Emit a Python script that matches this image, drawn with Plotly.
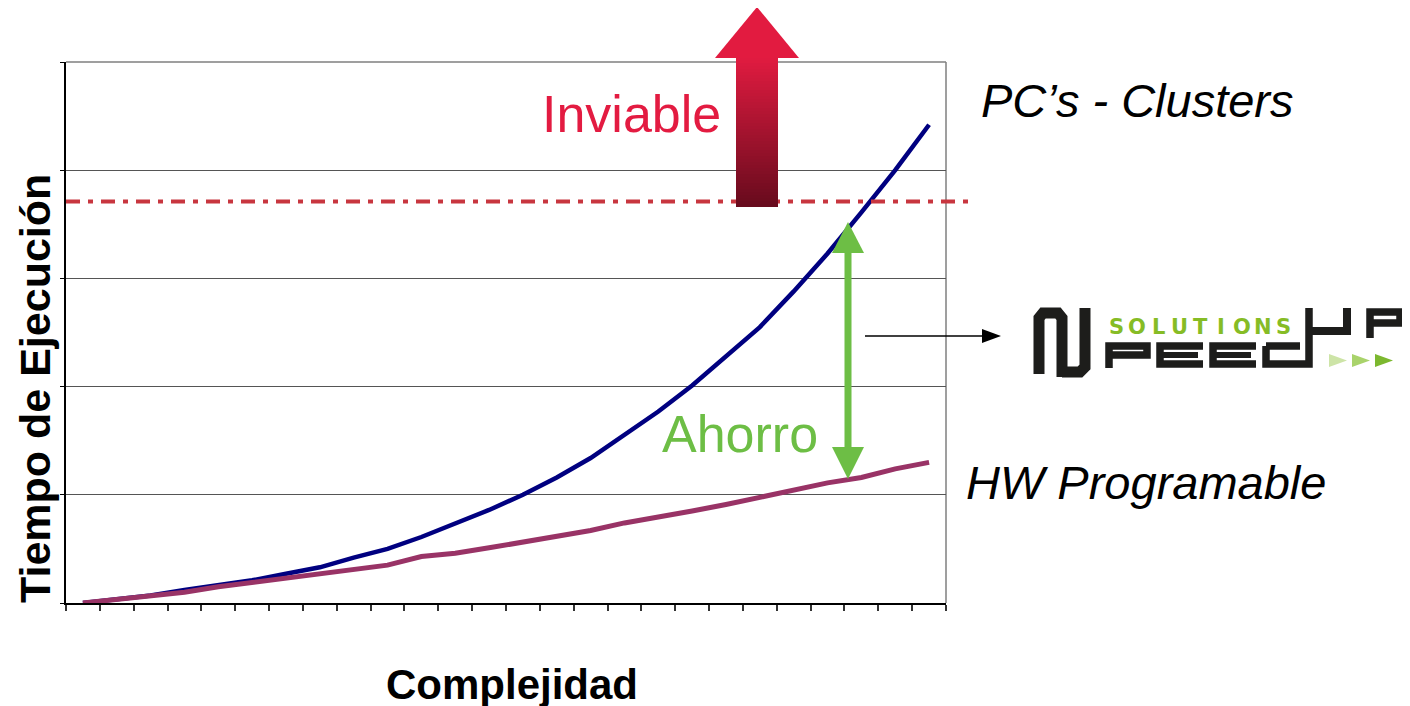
import plotly.graph_objects as go

# ---------------- data ----------------
complejidad = list(range(26))
pc_clusters = [0, 0.03, 0.07, 0.12, 0.16, 0.21, 0.27, 0.33, 0.42, 0.50, 0.61, 0.73, 0.86,
               1.00, 1.16, 1.34, 1.55, 1.77, 2.01, 2.28, 2.55, 2.88, 3.23, 3.61, 4.00, 4.42]
hw_programable = [0, 0.03, 0.07, 0.10, 0.15, 0.19, 0.23, 0.28, 0.31, 0.35, 0.43, 0.46, 0.51,
                  0.56, 0.61, 0.67, 0.74, 0.79, 0.85, 0.91, 0.98, 1.04, 1.11, 1.16, 1.24, 1.30]
limite_viable = 3.71
y_max = 5

# ---------------- layout helpers (page pixel -> paper) ----------------
W, H = 1410, 706
OFF = 8                       # default page (body) margin
PL, PT, PR, PB = 66, 62, 946, 603   # plot area in page pixels
L, T = PL - OFF, PT - OFF
R = W - L - (PR - PL)
B = H - T - (PB - PT)
PW, PH = PR - PL, PB - PT


def X(px):
    return (px - PL) / PW


def Y(py):
    return (PB - py) / PH


def path(points, close=True):
    s = "M " + " L ".join(f"{X(a):.5f},{Y(b):.5f}" for a, b in points)
    return s + (" Z" if close else "")


FONT = "Arial, Liberation Sans, sans-serif"

fig = go.Figure()
fig.add_trace(go.Scatter(x=complejidad, y=pc_clusters, mode="lines",
                         line=dict(color="#000080", width=4.5), name="PC's - Clusters",
                         hoverinfo="skip"))
fig.add_trace(go.Scatter(x=complejidad, y=hw_programable, mode="lines",
                         line=dict(color="#993366", width=5), name="HW Programable",
                         hoverinfo="skip"))

shapes = []
# plot frame (top and right in gray)
shapes.append(dict(type="line", xref="paper", yref="paper", x0=0, x1=1, y0=1, y1=1,
                   line=dict(color="#7f7f7f", width=1.5), layer="below"))
shapes.append(dict(type="line", xref="paper", yref="paper", x0=1, x1=1, y0=0, y1=1,
                   line=dict(color="#7f7f7f", width=1.5), layer="below"))

# dash-dot limit line
shapes.append(dict(type="line", xref="paper", yref="y", x0=0, x1=X(972),
                   y0=limite_viable, y1=limite_viable,
                   line=dict(color="#C8363F", width=4, dash="14px,8px,5px,8px"), layer="above"))

# red gradient arrow (Inviable)
c_top = (0xE0, 0x1B, 0x40)
c_bot = (0x68, 0x0B, 0x1D)
n = 50
y_top, y_bot = 57, 207
for k in range(n):
    t = k / (n - 1)
    col = tuple(round(c_top[i] + (c_bot[i] - c_top[i]) * t) for i in range(3))
    ya = y_top + (y_bot - y_top) * k / n
    yb = min(y_bot, y_top + (y_bot - y_top) * (k + 1) / n + 1.5)
    shapes.append(dict(type="rect", xref="paper", yref="paper", x0=X(736), x1=X(778),
                       y0=Y(yb), y1=Y(ya), fillcolor="rgb(%d,%d,%d)" % col,
                       line=dict(width=0), layer="above"))
shapes.append(dict(type="path", xref="paper", yref="paper",
                   path=path([(715, 58), (799, 58), (757, 7)]),
                   fillcolor="#E21B40", line=dict(width=0), layer="above"))

# green double arrow (Ahorro)
GREEN = "#6DBE45"
shapes.append(dict(type="rect", xref="paper", yref="paper", x0=X(844.5), x1=X(851.5),
                   y0=Y(449), y1=Y(251), fillcolor=GREEN, line=dict(width=0), layer="above"))
shapes.append(dict(type="path", xref="paper", yref="paper",
                   path=path([(832, 253), (864, 253), (848, 222)]),
                   fillcolor=GREEN, line=dict(width=0), layer="above"))
shapes.append(dict(type="path", xref="paper", yref="paper",
                   path=path([(832, 447), (864, 447), (848, 479)]),
                   fillcolor=GREEN, line=dict(width=0), layer="above"))

# black pointer arrow
shapes.append(dict(type="line", xref="paper", yref="paper", x0=X(865), x1=X(985),
                   y0=Y(336), y1=Y(336), line=dict(color="black", width=1.5), layer="above"))
shapes.append(dict(type="path", xref="paper", yref="paper",
                   path=path([(982, 329), (1001, 336), (982, 343)]),
                   fillcolor="black", line=dict(width=0), layer="above"))

# ---- logo (SpeedUp Solutions) ----
DARK = "#1d1d1b"
# stylised S : two interlocking brackets
shapes.append(dict(type="path", xref="paper", yref="paper",
                   path=path([(1039, 374), (1039, 318), (1043, 313), (1058, 313),
                              (1062, 318), (1062, 377)], close=False),
                   line=dict(color=DARK, width=11), layer="above"))
shapes.append(dict(type="path", xref="paper", yref="paper",
                   path=path([(1062, 372), (1080, 372), (1085, 367), (1085, 308)], close=False),
                   line=dict(color=DARK, width=11), layer="above"))
# P
shapes.append(dict(type="path", xref="paper", yref="paper",
                   path=path([(1109, 368), (1109, 346), (1147, 346), (1147, 355), (1109, 355)],
                             close=False),
                   line=dict(color=DARK, width=7.5), layer="above"))
# E, E
for x0 in (1160, 1213):
    shapes.append(dict(type="path", xref="paper", yref="paper",
                       path=path([(x0 + 43, 346), (x0, 346), (x0, 364), (x0 + 43, 364)],
                                 close=False),
                       line=dict(color=DARK, width=7.5), layer="above"))
    shapes.append(dict(type="line", xref="paper", yref="paper", x0=X(x0), x1=X(x0 + 38),
                       y0=Y(355), y1=Y(355), line=dict(color=DARK, width=6), layer="above"))
# D + U
shapes.append(dict(type="path", xref="paper", yref="paper",
                   path=path([(1266, 346), (1266, 364), (1309, 364), (1309, 308)], close=False),
                   line=dict(color=DARK, width=7.5), layer="above"))
shapes.append(dict(type="line", xref="paper", yref="paper", x0=X(1266), x1=X(1300),
                   y0=Y(346), y1=Y(346), line=dict(color=DARK, width=7.5), layer="above"))
shapes.append(dict(type="path", xref="paper", yref="paper",
                   path=path([(1309, 331), (1347, 331), (1347, 308)], close=False),
                   line=dict(color=DARK, width=8), layer="above"))
# P (UP)
shapes.append(dict(type="path", xref="paper", yref="paper",
                   path=path([(1370, 338), (1370, 312), (1400, 312), (1400, 323), (1370, 323)],
                             close=False),
                   line=dict(color=DARK, width=7.5), layer="above"))
# triangles
for x0, col in ((1329, "#cde4a7"), (1352, "#a9d36b"), (1375, "#7cb82f")):
    shapes.append(dict(type="path", xref="paper", yref="paper",
                       path=path([(x0, 354), (x0 + 18, 360.5), (x0, 367)]),
                       fillcolor=col, line=dict(width=0), layer="above"))

annotations = []


def txt(text, px, py, size, color="black", bold=False, italic=False, angle=0):
    s = text
    if bold:
        s = "<b>" + s + "</b>"
    if italic:
        s = "<i>" + s + "</i>"
    annotations.append(dict(text=s, xref="paper", yref="paper", x=X(px), y=Y(py),
                            xanchor="center", yanchor="middle", showarrow=False,
                            textangle=angle, font=dict(family=FONT, size=size, color=color)))


txt("Inviable", 631, 114, 52, color="#E31B41")
txt("PC’s - Clusters", 1137, 100, 47, italic=True)
txt("HW Programable", 1146, 482, 47, italic=True)
txt("Ahorro", 740, 434, 52, color=GREEN)
txt("Complejidad", 512, 684, 42, bold=True)
txt("Tiempo de Ejecución", 35, 389, 43, bold=True, angle=-90)

# SOLUTIONS letters
for k, ch in enumerate("SOLUTIONS"):
    annotations.append(dict(text="<b>" + ch + "</b>", xref="paper", yref="paper",
                            x=X(1116.5 + 20.9 * k), y=Y(327), xanchor="center",
                            yanchor="middle", showarrow=False,
                            font=dict(family="DejaVu Sans", size=21, color="#86BC25")))

fig.update_layout(
    width=W, height=H,
    margin=dict(l=L, r=R, t=T, b=B),
    paper_bgcolor="white", plot_bgcolor="white",
    showlegend=False,
    shapes=shapes,
    annotations=annotations,
    xaxis=dict(range=[-0.5, 25.5], tick0=-0.5, dtick=1, ticks="outside", ticklen=6,
               tickwidth=1.5, tickcolor="#333", showticklabels=False, showgrid=False,
               zeroline=False, showline=True, linecolor="black", linewidth=1.5,
               fixedrange=True),
    yaxis=dict(range=[0, y_max], dtick=1, ticks="outside", ticklen=4, tickcolor="black",
               showticklabels=False, showgrid=True, gridcolor="#555", gridwidth=1,
               zeroline=False, showline=True, linecolor="black", linewidth=1.5,
               fixedrange=True),
)

fig.write_html("out.html")
